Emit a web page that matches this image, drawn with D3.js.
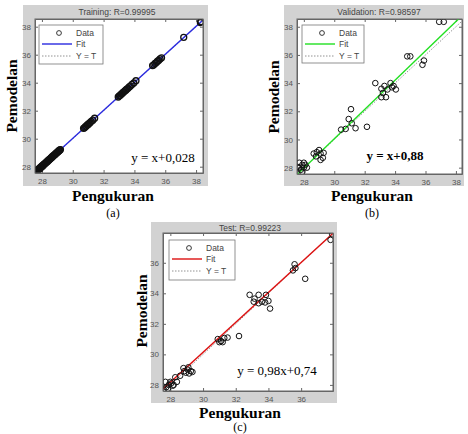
<!DOCTYPE html>
<html><head><meta charset="utf-8">
<script src="https://cdn.jsdelivr.net/npm/d3@7/dist/d3.min.js"></script>
<style>
html,body{margin:0;padding:0;background:#fff;}
svg{display:block;}
</style></head>
<body><svg id="c" width="468" height="434"></svg>
<script>
// ---------- DATA ----------
const tickValues = [28, 30, 32, 34, 36, 38];
const panelTitles = ["Training: R=0.99995", "Validation: R=0.98597", "Test: R=0.99223"];
const equations = ["y = x+0,028", "y = x+0,88", "y = 0,98x+0,74"];
const panelTags = ["(a)", "(b)", "(c)"];
const axisLabelX = "Pengukuran";
const axisLabelY = "Pemodelan";
const legendLabels = ["Data", "Fit", "Y = T"];

const trainX = [27.60,27.64,27.68,27.72,27.76,27.80,27.84,27.88,27.92,27.96,28.00,28.04,28.08,28.12,28.16,28.20,28.24,28.28,28.32,28.36,28.40,28.44,28.48,28.52,28.56,28.60,28.64,28.68,28.72,28.76,28.80,28.84,28.88,28.92,28.96,29.00,29.04,29.08,29.12,29.16,29.20,
  30.70,30.76,30.82,30.88,30.94,31.00,31.06,31.12,31.20,31.30,31.42,
  32.95,33.02,33.08,33.14,33.20,33.26,33.32,33.38,33.44,33.50,33.58,33.66,33.74,33.84,33.96,34.10,
  35.18,35.26,35.34,35.42,35.50,35.58,35.66,35.76,
  37.20,38.28,38.32];
const trainY = [27.63,27.70,27.66,27.78,27.80,27.83,27.90,27.86,27.97,27.99,28.06,28.03,28.12,28.14,28.20,28.22,28.28,28.30,28.36,28.38,28.45,28.46,28.52,28.55,28.58,28.64,28.66,28.73,28.74,28.80,28.83,28.88,28.90,28.96,28.99,29.04,29.06,29.12,29.14,29.20,29.22,
  30.74,30.78,30.86,30.90,30.98,31.02,31.10,31.14,31.24,31.32,31.46,
  32.98,33.06,33.10,33.18,33.22,33.30,33.35,33.42,33.46,33.54,33.60,33.70,33.76,33.88,33.98,34.14,
  35.22,35.28,35.38,35.44,35.54,35.60,35.70,35.78,
  37.24,38.30,38.36];

const valX = [36.9,37.2, 34.8,35.0, 35.9,35.8, 32.7, 33.3,33.7,
  33.1,33.5,33.8,34.05,33.9,33.1,33.4,33.2,
  31.1, 30.95,31.15,30.75,31.4,30.45, 32.15,
  28.85,29.0,28.65,29.1,29.3,29.1,29.25,28.8,
  27.7,27.9,28.0,27.8,28.1,27.6,28.2,27.9,27.7,28.0];
const valY = [38.35,38.35, 35.9,35.9, 35.6,35.3, 34.0, 33.8,34.0,
  33.6,33.55,33.7,33.55,33.8,33.0,33.0,33.3,
  32.15, 31.45,31.15,30.75,30.8,30.7, 30.9,
  29.1,29.25,29.0,29.0,29.05,28.55,28.7,28.8,
  28.35,28.2,28.0,27.85,28.2,28.05,28.0,27.7,28.0,28.35];

const testX = [37.9,37.8, 35.6,35.65,35.5, 36.25,
  32.85,33.4,33.85,33.15,33.6,34.0,33.1,34.1,33.8,33.4,
  32.2, 30.9,31.1,31.3,31.0,31.2,31.5,
  28.8,29.05,29.25,28.95,29.35,29.1,28.85,29.15,28.6,
  28.3,27.6,27.75,27.9,28.05,28.2,27.7,27.85,28.0,28.15,28.4];
const testY = [37.87,37.5, 35.9,35.65,35.5, 34.95,
  33.9,33.9,33.9,33.65,33.45,33.5,33.45,33.0,33.4,33.35,
  31.2, 31.0,30.87,31.07,30.8,30.8,31.1,
  29.1,29.0,28.9,28.8,28.85,29.15,28.9,28.75,28.6,
  28.5,27.7,27.85,28.0,28.1,28.0,28.2,27.75,28.2,27.95,28.2];

// fit lines: [slope, intercept]
const trainFit = [1.0, 0.028];
const valFit = [1.04, -1.15];
const testFit = [0.98, 0.74];

// ---------- LAYOUT ----------
const panels = [
  {xs: trainX, ys: trainY, fit: trainFit, color: "#2a2ae0", title: panelTitles[0], eq: equations[0], tag: panelTags[0],
   bg: [23, 5, 185, 181], plot: [35, 19, 203, 173], xDom: [27.55, 38.45], yDom: [27.55, 38.55],
   titlePos: [117, 15], yLab: [17, 96], xLab: [113, 201], tagPos: [113, 217],
   eqPos: [163, 162], eqBold: false, leg: [39, 25, 64, 39], dense: true},
  {xs: valX, ys: valY, fit: valFit, color: "#22e022", title: panelTitles[1], eq: equations[1], tag: panelTags[1],
   bg: [284, 5, 180, 181], plot: [297, 19, 462, 174], xDom: [27.55, 38.4], yDom: [27.55, 38.55],
   titlePos: [379, 15], yLab: [279, 97], xLab: [372, 201], tagPos: [372, 217],
   eqPos: [395, 160], eqBold: true, leg: [302, 25, 62, 38], dense: false},
  {xs: testX, ys: testY, fit: testFit, color: "#dd1111", title: panelTitles[2], eq: equations[2], tag: panelTags[2],
   bg: [151, 222, 186, 181], plot: [163, 233, 333, 391], xDom: [27.55, 37.95], yDom: [27.6, 37.95],
   titlePos: [250, 231], yLab: [147, 311], xLab: [240, 418], tagPos: [240, 431],
   eqPos: [277, 375], eqBold: false, leg: [169, 240, 66, 40], dense: false}
];

const svg = d3.select("#c");

panels.forEach(p => {
  const g = svg.append("g");
  g.append("rect").attr("x", p.bg[0]).attr("y", p.bg[1]).attr("width", p.bg[2]).attr("height", p.bg[3])
    .attr("fill", "#d2d2d2");
  const [x0, y0, x1, y1] = p.plot;
  const x = d3.scaleLinear().domain(p.xDom).range([x0, x1]);
  const y = d3.scaleLinear().domain(p.yDom).range([y1, y0]);
  g.append("rect").attr("x", x0).attr("y", y0).attr("width", x1 - x0).attr("height", y1 - y0)
    .attr("fill", "#fff");

  const xt = tickValues.filter(v => v >= p.xDom[0] && v <= p.xDom[1]);
  const yt = tickValues.filter(v => v >= p.yDom[0] && v <= p.yDom[1]);
  const styleAxis = sel => {
    sel.selectAll("path").attr("stroke", "#666");
    sel.selectAll("line").attr("stroke", "#666");
    sel.selectAll("text").attr("fill", "#555").attr("font-size", "8px").attr("font-family", "Arial, 'Liberation Sans', sans-serif");
  };
  g.append("g").attr("transform", `translate(0,${y1})`)
    .call(d3.axisBottom(x).tickValues(xt).tickSizeInner(-3).tickSizeOuter(0).tickPadding(5)).call(styleAxis);
  g.append("g").attr("transform", `translate(0,${y0})`)
    .call(d3.axisTop(x).tickValues(xt).tickSizeInner(-3).tickSizeOuter(0).tickFormat("")).call(styleAxis);
  g.append("g").attr("transform", `translate(${x0},0)`)
    .call(d3.axisLeft(y).tickValues(yt).tickSizeInner(-3).tickSizeOuter(0).tickPadding(4)).call(styleAxis);
  g.append("g").attr("transform", `translate(${x1},0)`)
    .call(d3.axisRight(y).tickValues(yt).tickSizeInner(-3).tickSizeOuter(0).tickFormat("")).call(styleAxis);

  const clipId = "clip" + p.tag.replace(/\W/g, "");
  svg.append("clipPath").attr("id", clipId).append("rect")
    .attr("x", x0).attr("y", y0).attr("width", x1 - x0).attr("height", y1 - y0);
  const inner = g.append("g").attr("clip-path", `url(#${clipId})`);

  // Y = T dotted
  inner.append("line").attr("x1", x(p.xDom[0])).attr("y1", y(p.xDom[0])).attr("x2", x(p.xDom[1])).attr("y2", y(p.xDom[1]))
    .attr("stroke", "#777").attr("stroke-width", 0.8).attr("stroke-dasharray", "1.5,1.5");
  // fit line
  const fx = p.xDom;
  inner.append("line").attr("x1", x(fx[0])).attr("y1", y(p.fit[0] * fx[0] + p.fit[1]))
    .attr("x2", x(fx[1])).attr("y2", y(p.fit[0] * fx[1] + p.fit[1]))
    .attr("stroke", p.color).attr("stroke-width", 1.4);
  // data circles
  inner.selectAll("circle").data(p.xs.map((v, i) => [v, p.ys[i]])).enter().append("circle")
    .attr("cx", d => x(d[0])).attr("cy", d => y(d[1])).attr("r", p.dense ? 3 : 2.8)
    .attr("fill", "none").attr("stroke", "#111").attr("stroke-width", p.dense ? 1.3 : 1);

  // border
  g.append("rect").attr("x", x0).attr("y", y0).attr("width", x1 - x0).attr("height", y1 - y0)
    .attr("fill", "none").attr("stroke", "#666").attr("stroke-width", 1);

  // legend
  const [lx, ly, lw, lh] = p.leg;
  const lg = g.append("g");
  lg.append("rect").attr("x", lx).attr("y", ly).attr("width", lw).attr("height", lh)
    .attr("fill", "#fff").attr("stroke", "#777").attr("stroke-width", 0.8);
  const rows = [ly + 8, ly + 19, ly + 31];
  lg.append("circle").attr("cx", lx + 20).attr("cy", rows[0]).attr("r", 2.4)
    .attr("fill", "none").attr("stroke", "#222").attr("stroke-width", 0.9);
  lg.append("line").attr("x1", lx + 3).attr("x2", lx + 33).attr("y1", rows[1]).attr("y2", rows[1])
    .attr("stroke", p.color).attr("stroke-width", 1.4);
  lg.append("line").attr("x1", lx + 3).attr("x2", lx + 33).attr("y1", rows[2]).attr("y2", rows[2])
    .attr("stroke", "#777").attr("stroke-width", 0.8).attr("stroke-dasharray", "1.5,1.5");
  legendLabels.forEach((t, i) => {
    lg.append("text").attr("x", lx + 37).attr("y", rows[i] + 3).text(t)
      .attr("font-size", "8.5px").attr("fill", "#444").attr("font-family", "Arial, 'Liberation Sans', sans-serif");
  });

  // title
  g.append("text").attr("x", p.titlePos[0]).attr("y", p.titlePos[1]).attr("text-anchor", "middle")
    .attr("font-size", "8.5px").attr("fill", "#444").attr("font-family", "Arial, 'Liberation Sans', sans-serif")
    .text(p.title);
  // equation
  g.append("text").attr("x", p.eqPos[0]).attr("y", p.eqPos[1]).attr("text-anchor", "middle")
    .attr("font-size", "13px").attr("font-weight", p.eqBold ? "bold" : "normal")
    .attr("font-family", "'Liberation Serif', 'Times New Roman', serif").attr("fill", "#000")
    .text(p.eq);
  // axis labels
  g.append("text").attr("x", p.xLab[0]).attr("y", p.xLab[1]).attr("text-anchor", "middle")
    .attr("font-size", "15.5px").attr("font-weight", "bold")
    .attr("font-family", "'Liberation Serif', 'Times New Roman', serif").text(axisLabelX);
  g.append("text").attr("transform", `translate(${p.yLab[0]},${p.yLab[1]}) rotate(-90)`).attr("text-anchor", "middle")
    .attr("font-size", "15.5px").attr("font-weight", "bold")
    .attr("font-family", "'Liberation Serif', 'Times New Roman', serif").text(axisLabelY);
  g.append("text").attr("x", p.tagPos[0]).attr("y", p.tagPos[1]).attr("text-anchor", "middle")
    .attr("font-size", "12px").attr("font-family", "'Liberation Serif', 'Times New Roman', serif").text(p.tag);
});
</script>
</body></html>
